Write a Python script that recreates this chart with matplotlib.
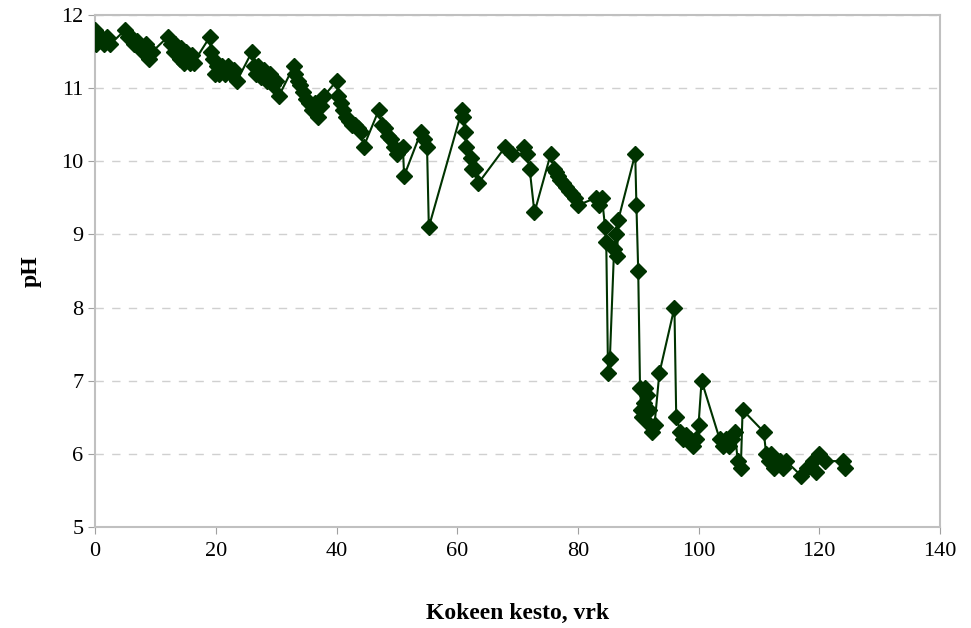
import numpy as np
import matplotlib.pyplot as plt

days = [0, 0.2, 0.5, 1.0, 1.5, 2.0, 2.5,
        5.0, 5.5, 6.0, 6.5, 7.0, 7.5, 8.0, 8.5, 9.0, 9.5,
        12.0, 12.5, 13.0, 13.3, 13.7, 14.0, 14.3, 14.7, 15.0, 15.3, 15.7, 16.0, 16.3,
        19.0, 19.2, 19.5, 19.8, 20.2, 20.6, 21.0, 21.5, 22.0, 22.5, 23.0, 23.5,
        26.0, 26.3, 26.7, 27.0, 27.5, 28.0, 28.5, 29.0, 29.5, 30.0, 30.5,
        32.9, 33.2, 33.6, 34.0, 34.5, 35.0, 35.5, 36.0, 36.5, 37.0, 37.5, 38.0,
        40.0, 40.3, 40.7, 41.0, 41.5, 42.0, 42.5, 43.0, 43.5, 44.0, 44.5,
        47.0, 47.5, 48.0, 48.5, 49.0, 49.5, 50.0, 50.5, 51.0, 51.2,
        54.0, 54.5, 55.0, 55.3,
        60.8, 61.0, 61.3, 61.5, 62.3, 62.5, 63.0, 63.5,
        68.0, 69.0, 71.0, 71.5, 72.0, 72.8,
        75.5, 76.0, 76.3, 76.7, 77.0, 77.5, 78.0, 78.5, 79.0, 79.5, 80.0,
        83.0, 83.5, 84.0, 84.5, 84.7, 85.0, 85.3, 86.0, 86.3, 86.5, 86.7,
        89.5, 89.7, 90.0, 90.3, 90.5, 90.7, 91.0, 91.2, 91.5, 91.8, 92.0, 92.3, 92.7, 93.5,
        96.0, 96.3, 97.0, 97.5, 98.0, 98.5, 99.0, 99.5, 100.0, 100.5,
        103.5, 104.0, 104.5, 105.0, 105.5, 106.0, 106.5, 107.0, 107.3,
        110.8, 111.2, 111.6, 112.0, 112.5, 113.0, 113.5, 114.0, 114.5,
        117.0, 118.0, 119.0, 119.5, 120.0, 121.0, 124.0, 124.2]
ph = [11.8, 11.6, 11.7, 11.7, 11.6, 11.7, 11.6,
      11.8, 11.7, 11.7, 11.6, 11.65, 11.55, 11.5, 11.6, 11.4, 11.5,
      11.7, 11.6, 11.5, 11.6, 11.45, 11.4, 11.55, 11.35, 11.5, 11.4, 11.35, 11.45, 11.35,
      11.7, 11.5, 11.4, 11.2, 11.3, 11.2, 11.3, 11.2, 11.3, 11.2, 11.25, 11.1,
      11.5, 11.3, 11.2, 11.3, 11.15, 11.25, 11.1, 11.2, 11.05, 11.1, 10.9,
      11.3, 11.2, 11.1, 11.05, 10.95, 10.85, 10.8, 10.7, 10.8, 10.6, 10.75, 10.9,
      11.1, 10.9, 10.8, 10.7, 10.6, 10.55, 10.5, 10.5, 10.45, 10.4, 10.2,
      10.7, 10.5, 10.45, 10.35, 10.3, 10.2, 10.1, 10.15, 10.2, 9.8,
      10.4, 10.3, 10.2, 9.1,
      10.7, 10.6, 10.4, 10.2, 10.05, 9.9, 9.9, 9.7,
      10.2, 10.1, 10.2, 10.1, 9.9, 9.3,
      10.1, 9.9, 9.85, 9.8, 9.75, 9.7, 9.65, 9.6, 9.55, 9.5, 9.4,
      9.5, 9.4, 9.5, 9.1, 8.9, 7.1, 7.3, 8.8, 9.0, 8.7, 9.2,
      10.1, 9.4, 8.5, 6.9, 6.6, 6.5, 6.7, 6.9, 6.8, 6.6, 6.4, 6.3, 6.4, 7.1,
      8.0, 6.5, 6.3, 6.2, 6.25, 6.2, 6.1, 6.2, 6.4, 7.0,
      6.2, 6.1, 6.2, 6.1, 6.2, 6.3, 5.9, 5.8, 6.6,
      6.3, 6.0, 5.9, 6.0, 5.8, 5.9, 5.9, 5.8, 5.9,
      5.7, 5.8, 5.9, 5.75, 6.0, 5.9, 5.9, 5.8]

x_ticks = [0, 20, 40, 60, 80, 100, 120, 140]
y_ticks = [5, 6, 7, 8, 9, 10, 11, 12]

plt.rcParams['font.family'] = ['Liberation Serif', 'DejaVu Serif']

fig, ax = plt.subplots(figsize=(9.71, 6.28), dpi=100)
fig.subplots_adjust(left=0.098, right=0.968, top=0.976, bottom=0.161)

ax.plot(days, ph, color='#003300', lw=1.5, marker='D', markersize=8.5,
        markerfacecolor='#003300', markeredgecolor='#003300', zorder=3)

ax.set_xlim(0, 140)
ax.set_ylim(5, 12)
ax.set_xticks(x_ticks)
ax.set_yticks(y_ticks)
ax.tick_params(labelsize=16, color='#a0a0a0', length=5, direction='out')
ax.tick_params(axis='x', pad=6)
ax.yaxis.grid(True, ls=(0, (6, 6)), color='#d0d0d0', lw=1)
ax.set_axisbelow(True)
for s in ax.spines.values():
    s.set_color('#c0c0c0')
    s.set_linewidth(1.5)

ax.set_xlabel('Kokeen kesto, vrk', fontsize=17, fontweight='bold', labelpad=30)
ax.set_ylabel('pH', fontsize=17, fontweight='bold', labelpad=14)

plt.savefig('out.png')
